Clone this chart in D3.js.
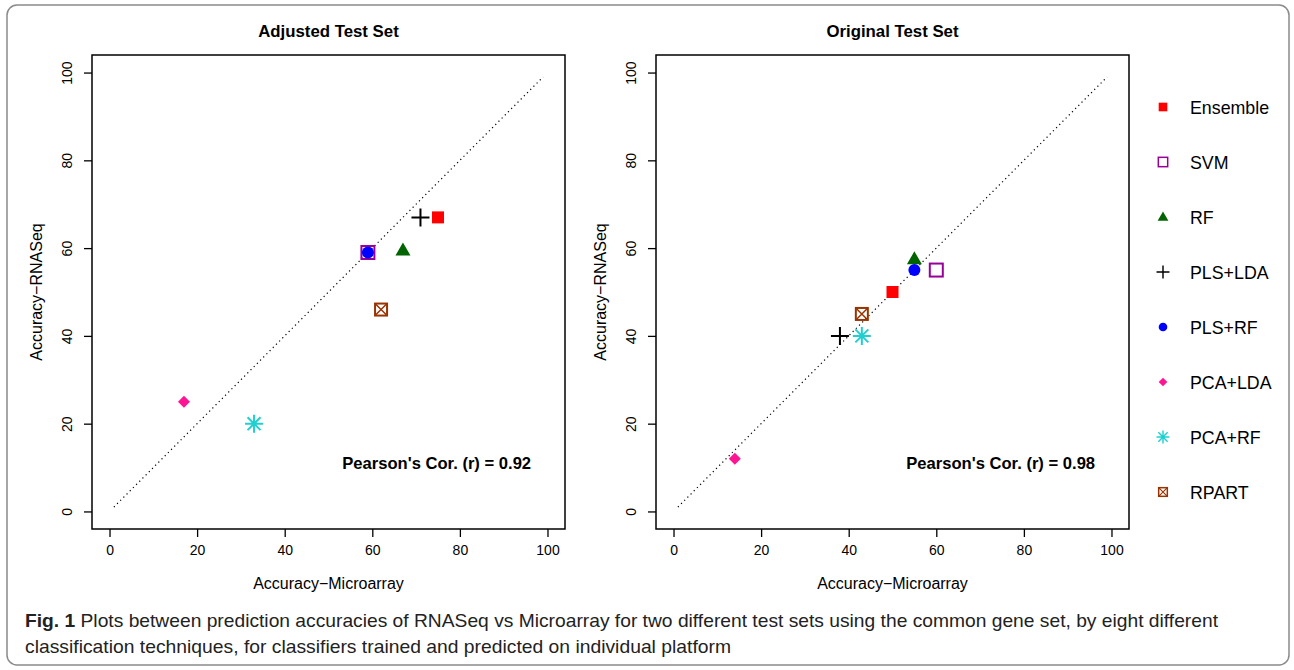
<!DOCTYPE html>
<html>
<head>
<meta charset="utf-8">
<script src="https://cdn.jsdelivr.net/npm/d3@7"></script>
<style>
  body { margin: 0; background: #fff; }
  text { font-family: "Liberation Sans", Arial, sans-serif; }
</style>
</head>
<body>
<svg width="1294" height="670"></svg>
<script>
// methods in legend order
const methods = ["Ensemble", "SVM", "RF", "PLS+LDA", "PLS+RF", "PCA+LDA", "PCA+RF", "RPART"];
const colors = ["#ff0000", "#990099", "#006400", "#000000", "#0000ff", "#ff1493", "#20d0d0", "#993300"];
const shapes = ["sqFill", "sqOpen", "tri", "plus", "circle", "diamond", "star", "sqX"];

// Adjusted test set
const adjMicro = [75, 59, 67, 71, 59, 17, 33, 62];
const adjRna   = [67, 59, 59.5, 67, 59, 25, 20, 46];
// Original test set
const origMicro = [50, 60, 55, 38, 55, 14, 43, 43];
const origRna   = [50, 55, 57.5, 40, 55, 12, 40, 45];

const ticks = [0, 20, 40, 60, 80, 100];

const svg = d3.select("svg");

// outer frame
svg.append("rect")
  .attr("x", 7).attr("y", 5).attr("width", 1282).attr("height", 660)
  .attr("rx", 10)
  .attr("fill", "none").attr("stroke", "#8a8a8a").attr("stroke-width", 1.5);

function drawSymbol(g, shape, color, cx, cy, s) {
  // s = scale, 1 for plot, ~0.7 for legend
  if (shape == "sqFill") {
    const w = 12 * s;
    g.append("rect").attr("x", cx - w/2).attr("y", cy - w/2).attr("width", w).attr("height", w).attr("fill", color);
  } else if (shape == "sqOpen") {
    const w = 13 * s;
    g.append("rect").attr("x", cx - w/2).attr("y", cy - w/2).attr("width", w).attr("height", w)
      .attr("fill", "none").attr("stroke", color).attr("stroke-width", 2 * Math.max(s, 0.75));
  } else if (shape == "tri") {
    const w = 15 * s, h = 13 * s;
    g.append("path").attr("d", `M${cx},${cy - h*0.6}L${cx + w/2},${cy + h*0.4}L${cx - w/2},${cy + h*0.4}Z`).attr("fill", color);
  } else if (shape == "plus") {
    const a = 9 * s;
    g.append("path").attr("d", `M${cx - a},${cy}H${cx + a}M${cx},${cy - a}V${cy + a}`)
      .attr("stroke", color).attr("stroke-width", 2 * Math.max(s, 0.6));
  } else if (shape == "circle") {
    g.append("circle").attr("cx", cx).attr("cy", cy).attr("r", 6 * s).attr("fill", color);
  } else if (shape == "diamond") {
    const a = 6 * s;
    g.append("path").attr("d", `M${cx},${cy - a}L${cx + a},${cy}L${cx},${cy + a}L${cx - a},${cy}Z`).attr("fill", color);
  } else if (shape == "star") {
    const a = 9 * s, d = a * 0.72;
    g.append("path").attr("d", `M${cx - a},${cy}H${cx + a}M${cx},${cy - a}V${cy + a}M${cx - d},${cy - d}L${cx + d},${cy + d}M${cx - d},${cy + d}L${cx + d},${cy - d}`)
      .attr("stroke", color).attr("stroke-width", 2 * Math.max(s, 0.6));
  } else if (shape == "sqX") {
    const w = 12 * s;
    g.append("rect").attr("x", cx - w/2).attr("y", cy - w/2).attr("width", w).attr("height", w)
      .attr("fill", "none").attr("stroke", color).attr("stroke-width", 2 * Math.max(s, 0.75));
    g.append("path").attr("d", `M${cx - w/2},${cy - w/2}L${cx + w/2},${cy + w/2}M${cx - w/2},${cy + w/2}L${cx + w/2},${cy - w/2}`)
      .attr("stroke", color).attr("stroke-width", 1.5 * Math.max(s, 0.75));
  }
}

function panel(left, title, xs, ys, corText) {
  const x = d3.scaleLinear().domain([-4, 104]).range([left, left + 473]);
  const y = d3.scaleLinear().domain([-4, 104]).range([529, 55]);
  const g = svg.append("g");

  g.append("text").attr("x", (x(-4) + x(104)) / 2).attr("y", 37)
    .attr("text-anchor", "middle").attr("font-weight", "bold").attr("font-size", 16.8).text(title);

  g.append("rect").attr("x", x(-4)).attr("y", y(104))
    .attr("width", x(104) - x(-4)).attr("height", y(-4) - y(104))
    .attr("fill", "none").attr("stroke", "#000").attr("stroke-width", 1.5);

  const xa = g.append("g").attr("transform", `translate(0,${y(-4)})`)
    .call(d3.axisBottom(x).tickValues(ticks).tickSize(8).tickPadding(8));
  xa.select(".domain").remove();
  xa.selectAll("line").attr("stroke-width", 1.3);
  xa.selectAll("text").attr("font-size", 14).attr("font-family", "Liberation Sans, Arial, sans-serif").attr("fill", "#000");

  const ya = g.append("g").attr("transform", `translate(${x(-4)},0)`)
    .call(d3.axisLeft(y).tickValues(ticks).tickSize(8));
  ya.select(".domain").remove();
  ya.selectAll("line").attr("stroke-width", 1.3);
  ya.selectAll("text").attr("font-size", 14).attr("font-family", "Liberation Sans, Arial, sans-serif").attr("fill", "#000")
    .attr("x", null).attr("dy", null)
    .attr("text-anchor", "middle")
    .attr("transform", "translate(-20,0) rotate(-90)");

  g.append("text").attr("x", (x(-4) + x(104)) / 2).attr("y", 589)
    .attr("text-anchor", "middle").attr("font-size", 16).text("Accuracy\u2212Microarray");
  g.append("text").attr("transform", `translate(${x(-4) - 50},${(y(-4) + y(104)) / 2}) rotate(-90)`)
    .attr("text-anchor", "middle").attr("font-size", 16).text("Accuracy\u2212RNASeq");

  // reference diagonal
  g.append("line").attr("x1", x(1)).attr("y1", y(1)).attr("x2", x(99)).attr("y2", y(99))
    .attr("stroke", "#000").attr("stroke-width", 1.2).attr("stroke-dasharray", "1.2,3.3");

  methods.forEach((m, i) => drawSymbol(g, shapes[i], colors[i], x(xs[i]), y(ys[i]), 1));

  g.append("text").attr("x", x(74.7)).attr("y", y(9.6)).attr("text-anchor", "middle")
    .attr("font-weight", "bold").attr("font-size", 16.6).text(corText);
}

panel(92, "Adjusted Test Set", adjMicro, adjRna, "Pearson's Cor. (r) = 0.92");
panel(656, "Original Test Set", origMicro, origRna, "Pearson's Cor. (r) = 0.98");

// legend
const leg = svg.append("g");
const ly = d3.scalePoint().domain(methods).range([107, 492]);
methods.forEach((m, i) => {
  drawSymbol(leg, shapes[i], colors[i], 1163, ly(m), 0.72);
  leg.append("text").attr("x", 1190).attr("y", ly(m) + 6.5).attr("font-size", 17.8).text(m);
});

// caption
const cap = svg.append("g").attr("font-family", "'Open Sans', sans-serif").attr("font-size", 19).attr("fill", "#222");
const t1 = cap.append("text").attr("x", 25).attr("y", 627).attr("textLength", 1193).attr("lengthAdjust", "spacingAndGlyphs");
t1.append("tspan").attr("font-weight", "bold").text("Fig. 1");
t1.append("tspan").text(" Plots between prediction accuracies of RNASeq vs Microarray for two different test sets using the common gene set, by eight different");
cap.append("text").attr("x", 25).attr("y", 653).attr("textLength", 706).attr("lengthAdjust", "spacingAndGlyphs")
  .text("classification techniques, for classifiers trained and predicted on individual platform");
</script>
</body>
</html>
